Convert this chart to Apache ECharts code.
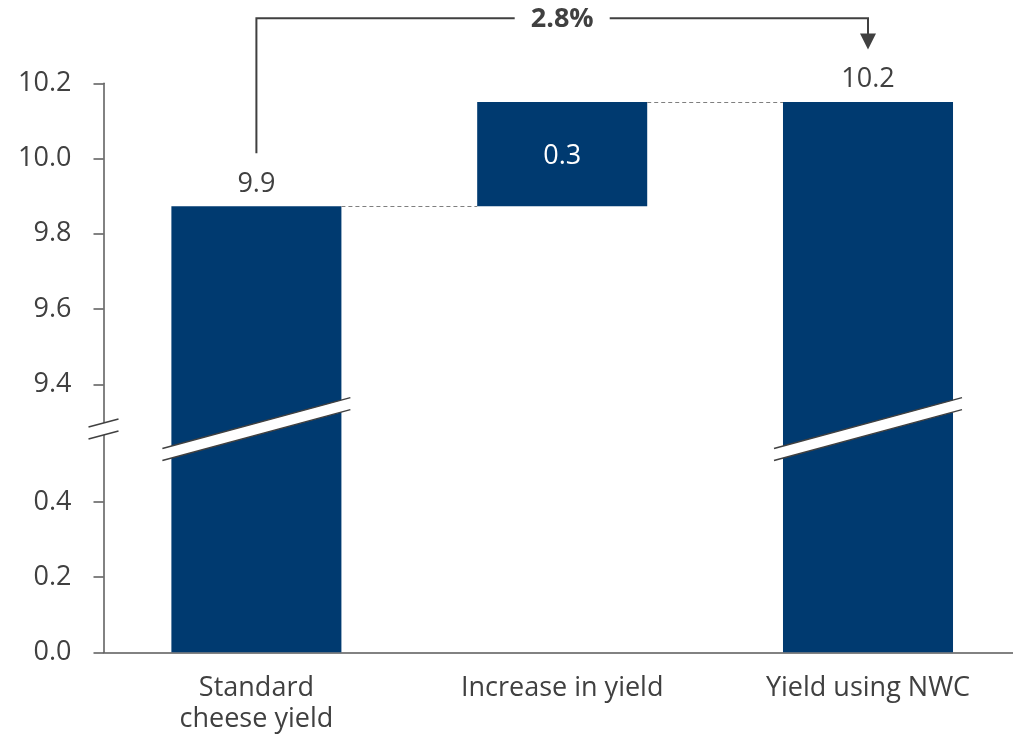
<!DOCTYPE html>
<html>
<head>
<meta charset="utf-8">
<script src="https://cdn.jsdelivr.net/npm/echarts@6/dist/echarts.min.js"></script>
<style>
  html, body { margin: 0; padding: 0; background: #ffffff; overflow: hidden; }
  #chart { width: 1013px; height: 737px; }
</style>
</head>
<body>
<div id="chart"></div>
<script>
// ---- data ----
const categories = ['Standard\ncheese yield', 'Increase in yield', 'Yield using NWC'];
const barKinds = ['total', 'delta', 'total'];
const yieldValues = [9.873, 0.277, 10.15];
const yTickValues = [0, 0.2, 0.4, 9.4, 9.6, 9.8, 10.0, 10.2];

// ---- broken axis helpers (scale gap between lower and upper segment) ----
const BREAK_OFFSET = 8.6875;          // amount of value range removed by the break
const BREAK_LIMIT = 0.6;              // display values above this belong to upper segment
const BREAK_MARK_DISPLAY = 0.5935;    // where the break symbol is drawn (display units)
function toDisplay(v) { return v > 5 ? v - BREAK_OFFSET : v; }
function fromDisplay(d) { return d > BREAK_LIMIT ? d + BREAK_OFFSET : d; }

// running levels of the waterfall
const bases = [], tops = [];
let level = 0;
yieldValues.forEach((v, i) => {
  if (barKinds[i] === 'total') { bases.push(0); tops.push(v); level = v; }
  else { bases.push(level); tops.push(level + v); level = level + v; }
});
const pctChange = (yieldValues[1] / yieldValues[0] * 100).toFixed(1) + '%';

const BAR_RATIO = 0.556;
const TEXT = '#404040';
const AXIS = '#595959';
const NAVY = '#003A70';
const FONT = 'Open Sans';

const baseData = bases.map(b => toDisplay(b));
const visData = yieldValues.map((v, i) => barKinds[i] === 'total' ? toDisplay(v) : toDisplay(tops[i]) - toDisplay(bases[i]));

const chart = echarts.init(document.getElementById('chart'), null, { renderer: 'canvas' });

function renderDecor(params, api) {
  const band = api.size([1, 0])[0];
  const half = band * BAR_RATIO / 2;
  const cs = params.coordSys;
  const kids = [];
  const slope = 0.27, thick = 12;
  function breakMark(xc, hw) {
    const yc = api.coord([0, BREAK_MARK_DISPLAY])[1];
    const x1 = xc - hw, x2 = xc + hw;
    const u1 = yc - thick / 2 + slope * hw, u2 = yc - thick / 2 - slope * hw;
    const l1 = yc + thick / 2 + slope * hw, l2 = yc + thick / 2 - slope * hw;
    kids.push({ type: 'polygon', shape: { points: [[x1, u1], [x2, u2], [x2, l2], [x1, l1]] }, style: { fill: '#ffffff', stroke: null } });
    kids.push({ type: 'line', shape: { x1: x1, y1: u1, x2: x2, y2: u2 }, style: { stroke: TEXT, lineWidth: 1.5 } });
    kids.push({ type: 'line', shape: { x1: x1, y1: l1, x2: x2, y2: l2 }, style: { stroke: TEXT, lineWidth: 1.5 } });
  }
  categories.forEach((c, i) => {
    if (barKinds[i] === 'total') breakMark(api.coord([i, 0])[0], half + 9);
  });
  breakMark(cs.x, 15);

  // dashed connectors
  for (let i = 0; i < categories.length - 1; i++) {
    const y = api.coord([i, toDisplay(tops[i])])[1];
    const xa = api.coord([i, 0])[0] + half;
    const xb = api.coord([i + 1, 0])[0] - half;
    kids.push({ type: 'line', shape: { x1: xa, y1: Math.round(y) + 0.5, x2: xb, y2: Math.round(y) + 0.5 }, style: { stroke: '#7f7f7f', lineWidth: 1, lineDash: [4, 3] } });
  }

  // percentage bracket
  const xL = api.coord([0, 0])[0];
  const xR = api.coord([2, 0])[0];
  const yLine = cs.y - 65;
  const yLeftEnd = api.coord([0, toDisplay(tops[0])])[1] - 53;
  const yArrowTip = api.coord([2, toDisplay(tops[2])])[1] - 52.5;
  const xm = (xL + xR) / 2;
  const gap = 47.5;
  const ls = { stroke: TEXT, lineWidth: 2, fill: null };
  kids.push({ type: 'polyline', shape: { points: [[xL, yLeftEnd], [xL, yLine], [xm - gap, yLine]] }, style: ls });
  kids.push({ type: 'polyline', shape: { points: [[xm + gap, yLine], [xR, yLine], [xR, yArrowTip - 15]] }, style: ls });
  kids.push({ type: 'polygon', shape: { points: [[xR - 8, yArrowTip - 16], [xR + 8, yArrowTip - 16], [xR, yArrowTip]] }, style: { fill: TEXT } });
  kids.push({ type: 'text', style: { text: pctChange, x: xm, y: yLine + 1, align: 'center', verticalAlign: 'middle', fill: TEXT, font: 'bold 27px "' + FONT + '"' } });
  return { type: 'group', children: kids };
}

const option = {
  animation: false,
  backgroundColor: '#ffffff',
  textStyle: { fontFamily: FONT },
  grid: { left: 103.5, width: 917.4, top: 83.3, bottom: 84.7, containLabel: false, outerBoundsMode: 'none' },
  xAxis: {
    type: 'category',
    data: categories,
    axisLine: { lineStyle: { color: AXIS, width: 1.5 } },
    axisTick: { show: false },
    axisLabel: { color: TEXT, fontSize: 27, lineHeight: 31, margin: 21, fontFamily: FONT }
  },
  yAxis: {
    type: 'value',
    min: 0,
    max: toDisplay(10.2),
    splitLine: { show: false },
    axisLine: { show: true, lineStyle: { color: AXIS, width: 1.5 } },
    axisTick: { show: true, length: 10, lineStyle: { color: AXIS, width: 1.5 }, customValues: yTickValues.map(toDisplay) },
    axisLabel: {
      color: TEXT, fontSize: 27, margin: 32, fontFamily: FONT,
      customValues: yTickValues.map(toDisplay),
      formatter: v => fromDisplay(v).toFixed(1)
    }
  },
  series: [
    {
      type: 'bar', stack: 'w', data: baseData, barWidth: (BAR_RATIO * 100) + '%',
      itemStyle: { color: 'transparent' }, silent: true
    },
    {
      type: 'bar', stack: 'w', barWidth: (BAR_RATIO * 100) + '%',
      data: visData.map((d, i) => ({
        value: d,
        label: barKinds[i] === 'total'
          ? { show: true, position: 'top', distance: 9, color: TEXT, fontSize: 27, fontFamily: FONT }
          : { show: true, position: 'inside', offset: [0, 2], color: '#ffffff', fontSize: 27, fontFamily: FONT }
      })),
      label: { formatter: p => yieldValues[p.dataIndex].toFixed(1) },
      itemStyle: { color: NAVY }
    },
    {
      type: 'custom', data: [[0, 0]], renderItem: renderDecor, silent: true, z: 5, clip: false
    }
  ]
};
chart.setOption(option);
</script>
</body>
</html>
